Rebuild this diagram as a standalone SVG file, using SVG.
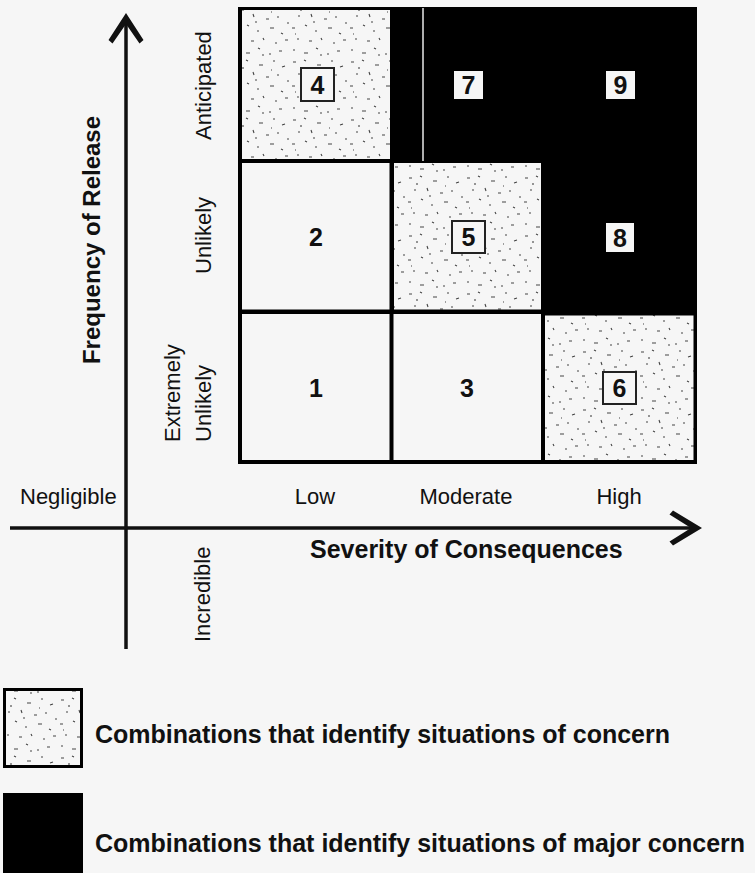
<svg xmlns="http://www.w3.org/2000/svg" width="755" height="873" viewBox="0 0 755 873">
<style>
.lab{font-family:"Liberation Sans",Arial,sans-serif;font-size:22px;fill:#111}
.bold{font-family:"Liberation Sans",Arial,sans-serif;font-weight:bold;fill:#111}
.num{font-family:"Liberation Sans",Arial,sans-serif;font-weight:bold;font-size:25px;text-anchor:middle;fill:#111}
.light{fill:#f6f6f6}
.stip{fill:url(#stip)}
.nbox{fill:#f6f6f6;stroke:#222;stroke-width:2}
.wbox{fill:#f6f6f6}
.axis{stroke:#111;stroke-width:3.5;fill:none}
.head{fill:#111}
</style>
<defs>
<pattern id="stip" patternUnits="userSpaceOnUse" width="58" height="58">
<rect width="58" height="58" fill="#f6f6f6"/>
<path d="M3 4h3M14 2l2 1M27 7h4M41 3h2M50 9l3 -1M8 16h2M21 14l1 3M34 19h3M45 17h2M55 23h2M2 28h3M15 25l2 1M25 31h2M38 28h4M49 33l2 1M7 39h2M19 41h3M31 38l1 2M43 43h2M53 40h3M3 50h2M14 53h4M26 48l2 1M37 54h2M47 51h3M11 9v2M39 12h1M23 22h2M5 34h1M30 55h2" stroke="#444" stroke-width="1.1" fill="none"/>
</pattern>
</defs>
<rect width="755" height="873" fill="#f6f6f6"/>

<g id="grid">
<rect x="238" y="7" width="459" height="457" fill="#000"/>
<line x1="423" y1="8" x2="423" y2="161" stroke="#e8e8e8" stroke-width="1.5"/>
</g>

<g id="cell4">
<rect class="stip" x="242" y="10" width="148" height="149"/>
<rect class="nbox" x="301" y="68" width="33" height="33"/>
<text class="num" x="317.5" y="93.5">4</text>
</g>
<g id="cell7">
<rect class="wbox" x="454" y="71" width="29" height="28"/>
<text class="num" x="468.5" y="94">7</text>
</g>
<g id="cell9">
<rect class="wbox" x="606" y="71" width="29" height="28"/>
<text class="num" x="620.5" y="94">9</text>
</g>
<g id="cell2">
<rect class="light" x="242" y="163" width="147.5" height="146.5"/>
<text class="num" x="316" y="246">2</text>
</g>
<g id="cell5">
<rect class="stip" x="394" y="163" width="147" height="146.5"/>
<rect class="nbox" x="452" y="221" width="33" height="32"/>
<text class="num" x="468.5" y="246">5</text>
</g>
<g id="cell8">
<rect class="wbox" x="606" y="223" width="28" height="29"/>
<text class="num" x="620" y="246.5">8</text>
</g>
<g id="cell1">
<rect class="light" x="242" y="314" width="147.5" height="146"/>
<text class="num" x="316" y="397">1</text>
</g>
<g id="cell3">
<rect class="light" x="393.5" y="314" width="147.5" height="146"/>
<text class="num" x="467" y="397">3</text>
</g>
<g id="cell6">
<rect class="stip" x="545" y="315.5" width="148.5" height="144.5"/>
<rect class="nbox" x="603" y="372" width="33" height="32"/>
<text class="num" x="619.5" y="397">6</text>
</g>

<g id="connectors">
<line class="axis" x1="126" y1="20" x2="126" y2="649"/>
<polygon class="head" points="126,13 143.5,40 139.5,43.5 126,24 112.5,43.5 108.5,40"/>
<line class="axis" x1="10" y1="528" x2="695" y2="528"/>
<polygon class="head" points="702,528 673,545.5 669.5,541.5 691,528 669.5,514.5 673,510.5"/>
</g>

<g id="labels">
<text class="bold" font-size="24" text-anchor="middle" transform="translate(100,240) rotate(-90)">Frequency of Release</text>
<text class="lab" transform="translate(211,140) rotate(-90)">Anticipated</text>
<text class="lab" transform="translate(211,274) rotate(-90)">Unlikely</text>
<text class="lab" transform="translate(180,442) rotate(-90)">Extremely</text>
<text class="lab" transform="translate(211,442) rotate(-90)">Unlikely</text>
<text class="lab" transform="translate(210,642) rotate(-90)">Incredible</text>
<text class="lab" x="20" y="504">Negligible</text>
<text class="lab" x="315" y="504" text-anchor="middle">Low</text>
<text class="lab" x="466" y="504" text-anchor="middle">Moderate</text>
<text class="lab" x="619" y="504" text-anchor="middle">High</text>
<text class="bold" font-size="25" x="310" y="558">Severity of Consequences</text>
</g>

<g id="legend-concern">
<rect x="4.5" y="689.5" width="77" height="77" fill="url(#stip)" stroke="#000" stroke-width="3"/>
<text class="bold" font-size="25" x="95" y="743">Combinations that identify situations of concern</text>
</g>
<g id="legend-major">
<rect x="3" y="793" width="80" height="80" fill="#000"/>
<text class="bold" font-size="25" x="95" y="852">Combinations that identify situations of major concern</text>
</g>
</svg>
